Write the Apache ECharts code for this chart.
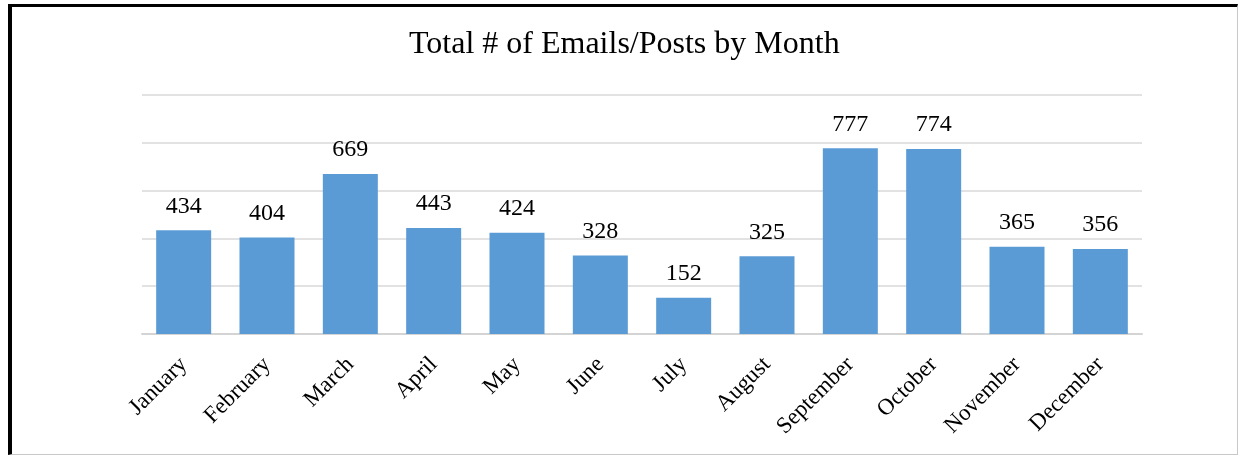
<!DOCTYPE html>
<html>
<head>
<meta charset="utf-8">
<script src="https://cdn.jsdelivr.net/npm/echarts@6/dist/echarts.min.js"></script>
<style>
  html, body { margin: 0; padding: 0; background: #fff; }
  #chart { position: absolute; left: 0; top: 0; width: 1238px; height: 455px; }
  .frame {
    position: absolute; left: 8px; top: 4px; width: 1230px; height: 451px;
    box-sizing: border-box; pointer-events: none;
    border-top: 3px solid #000; border-left: 4px solid #000;
    border-right: 1px solid #c8c8c8; border-bottom: 1px solid #c8c8c8;
  }
</style>
</head>
<body>
<div id="chart"></div>
<div class="frame"></div>
<script>
// months on the x axis
const months = ['January', 'February', 'March', 'April', 'May', 'June',
  'July', 'August', 'September', 'October', 'November', 'December']
// total emails / posts per month
const totals = [434, 404, 669, 443, 424, 328, 152, 325, 777, 774, 365, 356]

const chart = echarts.init(document.getElementById('chart'))
const serif = '"Liberation Serif", "DejaVu Serif", serif'

const option = {
  animation: false,
  title: {
    text: 'Total # of Emails/Posts by Month',
    left: 404,
    top: 24,
    textStyle: { fontFamily: serif, fontSize: 32, fontWeight: 'normal', color: '#000' }
  },
  grid: { left: 142, right: 96, top: 95, bottom: 121, containLabel: false },
  xAxis: {
    type: 'category',
    data: months,
    axisTick: { show: false },
    axisLine: { lineStyle: { color: '#d4d4d4', width: 2 } },
    axisLabel: {
      rotate: 45,
      margin: 27,
      interval: 0,
      fontFamily: serif,
      fontSize: 23,
      color: '#000'
    }
  },
  yAxis: {
    type: 'value',
    min: 0,
    max: 1000,
    interval: 200,
    axisLabel: { show: false },
    axisLine: { show: false },
    axisTick: { show: false },
    splitLine: { lineStyle: { color: '#d9d9d9', width: 1.5 } }
  },
  series: [
    {
      type: 'bar',
      data: totals,
      barCategoryGap: '34%',
      itemStyle: { color: '#5b9bd5' },
      label: {
        show: true,
        position: 'top',
        distance: 12,
        fontFamily: serif,
        fontSize: 24,
        color: '#000'
      }
    }
  ]
}

chart.setOption(option)
</script>
</body>
</html>
